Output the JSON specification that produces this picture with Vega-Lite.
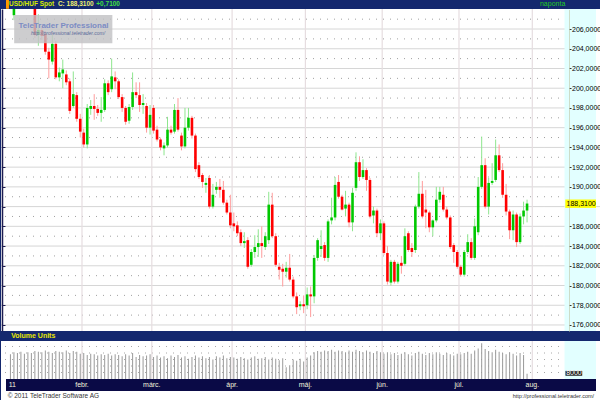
{
"$schema": "https://vega.github.io/schema/vega-lite/v6.json",
"background": "#14286e",
"padding": 0,
"bounds": "flush",
"spacing": 10,
"config": {"view": {"stroke": null}},
"datasets": {
"one": [{}],
"candles": [
{"i":0,"o":208.6,"h":209.8,"l":208.3,"c":209.3,"v":38000},
{"i":1,"o":207.4,"h":208.6,"l":206.9,"c":208.3,"v":41000},
{"i":2,"o":208.5,"h":211.0,"l":208.3,"c":210.6,"v":40000},
{"i":3,"o":210.6,"h":212.4,"l":210.2,"c":212.0,"v":42000},
{"i":4,"o":212.0,"h":213.8,"l":211.5,"c":213.2,"v":39000},
{"i":5,"o":213.2,"h":214.3,"l":212.1,"c":212.6,"v":41000},
{"i":6,"o":212.6,"h":213.0,"l":209.6,"c":210.0,"v":40000},
{"i":7,"o":209.9,"h":210.3,"l":205.1,"c":205.4,"v":43000},
{"i":8,"o":205.4,"h":207.5,"l":204.3,"c":205.9,"v":42000},
{"i":9,"o":205.9,"h":206.3,"l":204.9,"c":205.3,"v":41000},
{"i":10,"o":205.5,"h":205.8,"l":203.4,"c":203.7,"v":44000},
{"i":11,"o":203.7,"h":204.1,"l":201.0,"c":202.9,"v":42000},
{"i":12,"o":202.7,"h":205.4,"l":202.4,"c":204.5,"v":40000},
{"i":13,"o":204.5,"h":204.8,"l":200.9,"c":201.1,"v":43000},
{"i":14,"o":201.1,"h":202.1,"l":200.7,"c":201.6,"v":42000},
{"i":15,"o":201.5,"h":202.9,"l":200.0,"c":201.9,"v":41000},
{"i":16,"o":201.4,"h":201.8,"l":200.3,"c":200.6,"v":44000},
{"i":17,"o":200.7,"h":201.0,"l":197.4,"c":197.7,"v":40000},
{"i":18,"o":198.2,"h":201.7,"l":198.0,"c":199.4,"v":43000},
{"i":19,"o":199.3,"h":199.6,"l":196.6,"c":196.9,"v":42000},
{"i":20,"o":196.9,"h":197.4,"l":195.0,"c":195.6,"v":39000},
{"i":21,"o":195.5,"h":195.9,"l":194.0,"c":194.3,"v":40000},
{"i":22,"o":194.3,"h":198.4,"l":193.9,"c":198.0,"v":37000},
{"i":23,"o":197.9,"h":198.8,"l":197.3,"c":198.2,"v":39000},
{"i":24,"o":198.2,"h":199.4,"l":196.8,"c":197.9,"v":38000},
{"i":25,"o":197.9,"h":198.3,"l":197.2,"c":197.5,"v":36000},
{"i":26,"o":197.5,"h":199.1,"l":196.6,"c":197.8,"v":38000},
{"i":27,"o":197.8,"h":200.9,"l":197.6,"c":200.5,"v":37000},
{"i":28,"o":200.5,"h":200.8,"l":199.3,"c":199.6,"v":39000},
{"i":29,"o":199.9,"h":203.0,"l":199.6,"c":201.2,"v":36000},
{"i":30,"o":201.1,"h":201.7,"l":199.9,"c":200.7,"v":38000},
{"i":31,"o":200.7,"h":200.9,"l":198.9,"c":199.1,"v":37000},
{"i":32,"o":199.1,"h":199.4,"l":197.6,"c":198.0,"v":35000},
{"i":33,"o":198.0,"h":198.2,"l":196.3,"c":196.6,"v":38000},
{"i":34,"o":196.7,"h":198.4,"l":196.4,"c":198.1,"v":36000},
{"i":35,"o":198.1,"h":201.6,"l":197.8,"c":199.6,"v":40000},
{"i":36,"o":199.6,"h":200.6,"l":199.0,"c":199.3,"v":34000},
{"i":37,"o":199.3,"h":200.6,"l":197.6,"c":198.3,"v":37000},
{"i":38,"o":198.3,"h":199.4,"l":197.4,"c":198.5,"v":35000},
{"i":39,"o":198.2,"h":198.5,"l":195.5,"c":196.0,"v":36000},
{"i":40,"o":196.0,"h":198.3,"l":195.3,"c":197.3,"v":38000},
{"i":41,"o":198.0,"h":198.3,"l":195.4,"c":195.7,"v":34000},
{"i":42,"o":195.8,"h":196.2,"l":194.6,"c":194.8,"v":36000},
{"i":43,"o":194.8,"h":195.0,"l":193.7,"c":194.0,"v":33000},
{"i":44,"o":193.9,"h":194.5,"l":193.2,"c":194.2,"v":35000},
{"i":45,"o":194.2,"h":197.1,"l":194.0,"c":195.8,"v":32000},
{"i":46,"o":195.8,"h":196.2,"l":195.3,"c":195.5,"v":36000},
{"i":47,"o":195.6,"h":198.4,"l":195.4,"c":197.8,"v":34000},
{"i":48,"o":197.8,"h":199.0,"l":195.6,"c":195.8,"v":37000},
{"i":49,"o":195.2,"h":195.5,"l":193.7,"c":194.1,"v":33000},
{"i":50,"o":194.1,"h":198.0,"l":193.9,"c":196.0,"v":35000},
{"i":51,"o":196.0,"h":198.0,"l":195.7,"c":197.0,"v":31000},
{"i":52,"o":197.0,"h":197.2,"l":194.9,"c":195.2,"v":34000},
{"i":53,"o":195.2,"h":195.4,"l":191.5,"c":191.8,"v":36000},
{"i":54,"o":192.2,"h":192.5,"l":190.8,"c":191.0,"v":33000},
{"i":55,"o":191.2,"h":191.4,"l":189.9,"c":190.5,"v":35000},
{"i":56,"o":190.2,"h":190.9,"l":189.4,"c":190.4,"v":32000},
{"i":57,"o":190.9,"h":191.2,"l":187.8,"c":188.0,"v":34000},
{"i":58,"o":188.0,"h":190.3,"l":187.8,"c":189.2,"v":30000},
{"i":59,"o":189.7,"h":190.5,"l":189.3,"c":190.0,"v":35000},
{"i":60,"o":190.0,"h":190.8,"l":188.9,"c":189.7,"v":33000},
{"i":61,"o":189.7,"h":190.6,"l":188.2,"c":188.4,"v":36000},
{"i":62,"o":188.4,"h":188.7,"l":187.2,"c":187.4,"v":32000},
{"i":63,"o":187.4,"h":189.2,"l":185.8,"c":186.1,"v":34000},
{"i":64,"o":186.3,"h":187.4,"l":185.5,"c":186.0,"v":33000},
{"i":65,"o":186.1,"h":186.5,"l":185.0,"c":185.3,"v":31000},
{"i":66,"o":185.4,"h":185.7,"l":184.0,"c":184.3,"v":34000},
{"i":67,"o":184.3,"h":185.4,"l":183.8,"c":184.5,"v":32000},
{"i":68,"o":184.6,"h":184.9,"l":181.7,"c":181.9,"v":30000},
{"i":69,"o":182.1,"h":183.7,"l":181.9,"c":183.4,"v":33000},
{"i":70,"o":183.4,"h":185.1,"l":182.8,"c":183.9,"v":35000},
{"i":71,"o":183.9,"h":185.7,"l":182.9,"c":184.3,"v":31000},
{"i":72,"o":184.3,"h":186.0,"l":182.8,"c":184.0,"v":32000},
{"i":73,"o":183.9,"h":185.4,"l":183.6,"c":185.0,"v":34000},
{"i":74,"o":184.6,"h":189.5,"l":184.2,"c":188.2,"v":30000},
{"i":75,"o":188.2,"h":189.4,"l":184.8,"c":185.0,"v":33000},
{"i":76,"o":185.0,"h":185.3,"l":181.9,"c":182.1,"v":31000},
{"i":77,"o":181.9,"h":182.3,"l":180.6,"c":181.6,"v":29000},
{"i":78,"o":181.7,"h":182.2,"l":179.9,"c":181.4,"v":32000},
{"i":79,"o":181.4,"h":182.4,"l":180.8,"c":181.8,"v":18000},
{"i":80,"o":181.8,"h":183.2,"l":180.4,"c":180.6,"v":21000},
{"i":81,"o":180.6,"h":180.9,"l":178.7,"c":178.9,"v":30000},
{"i":82,"o":178.9,"h":179.3,"l":177.1,"c":177.8,"v":28000},
{"i":83,"o":177.9,"h":178.4,"l":177.5,"c":178.1,"v":31000},
{"i":84,"o":178.1,"h":179.0,"l":177.2,"c":177.9,"v":27000},
{"i":85,"o":178.0,"h":179.8,"l":177.6,"c":179.1,"v":33000},
{"i":86,"o":179.1,"h":179.9,"l":176.8,"c":178.9,"v":36000},
{"i":87,"o":178.9,"h":183.1,"l":178.2,"c":182.8,"v":41000},
{"i":88,"o":182.8,"h":184.8,"l":182.5,"c":184.6,"v":43000},
{"i":89,"o":183.7,"h":185.6,"l":182.9,"c":184.0,"v":42000},
{"i":90,"o":184.1,"h":184.4,"l":182.5,"c":182.8,"v":44000},
{"i":91,"o":182.8,"h":186.7,"l":182.4,"c":186.5,"v":43000},
{"i":92,"o":186.6,"h":188.9,"l":186.2,"c":186.9,"v":45000},
{"i":93,"o":186.9,"h":191.0,"l":186.6,"c":190.2,"v":42000},
{"i":94,"o":190.5,"h":191.2,"l":188.8,"c":189.0,"v":44000},
{"i":95,"o":189.0,"h":189.2,"l":187.6,"c":187.7,"v":43000},
{"i":96,"o":187.8,"h":189.6,"l":187.0,"c":188.2,"v":41000},
{"i":97,"o":188.2,"h":188.4,"l":185.9,"c":186.4,"v":44000},
{"i":98,"o":186.4,"h":189.9,"l":185.5,"c":189.4,"v":42000},
{"i":99,"o":189.9,"h":193.5,"l":189.6,"c":192.5,"v":45000},
{"i":100,"o":192.5,"h":193.1,"l":190.6,"c":191.0,"v":43000},
{"i":101,"o":191.0,"h":192.8,"l":190.8,"c":191.7,"v":41000},
{"i":102,"o":191.7,"h":191.9,"l":189.6,"c":190.7,"v":44000},
{"i":103,"o":190.7,"h":190.9,"l":186.8,"c":187.0,"v":42000},
{"i":104,"o":187.1,"h":188.0,"l":186.3,"c":187.6,"v":40000},
{"i":105,"o":187.6,"h":187.8,"l":184.9,"c":185.3,"v":43000},
{"i":106,"o":185.3,"h":186.7,"l":184.6,"c":186.3,"v":41000},
{"i":107,"o":186.3,"h":186.5,"l":183.1,"c":183.3,"v":39000},
{"i":108,"o":183.3,"h":184.0,"l":180.1,"c":180.4,"v":41000},
{"i":109,"o":180.3,"h":182.6,"l":180.0,"c":182.4,"v":38000},
{"i":110,"o":182.4,"h":182.6,"l":180.2,"c":180.4,"v":40000},
{"i":111,"o":180.4,"h":182.4,"l":180.2,"c":182.2,"v":37000},
{"i":112,"o":182.3,"h":183.0,"l":181.2,"c":182.0,"v":39000},
{"i":113,"o":182.2,"h":185.8,"l":182.0,"c":185.0,"v":41000},
{"i":114,"o":185.3,"h":185.5,"l":183.4,"c":183.6,"v":38000},
{"i":115,"o":183.8,"h":184.3,"l":182.9,"c":183.4,"v":36000},
{"i":116,"o":183.6,"h":188.2,"l":183.3,"c":188.0,"v":40000},
{"i":117,"o":188.0,"h":191.5,"l":187.8,"c":189.3,"v":42000},
{"i":118,"o":189.3,"h":190.6,"l":186.8,"c":187.0,"v":39000},
{"i":119,"o":187.7,"h":189.7,"l":185.8,"c":187.4,"v":37000},
{"i":120,"o":187.4,"h":187.6,"l":185.4,"c":185.9,"v":40000},
{"i":121,"o":185.9,"h":186.7,"l":185.0,"c":186.6,"v":38000},
{"i":122,"o":186.6,"h":190.0,"l":186.4,"c":188.7,"v":41000},
{"i":123,"o":188.7,"h":190.0,"l":188.4,"c":189.5,"v":39000},
{"i":124,"o":189.2,"h":190.0,"l":187.5,"c":187.7,"v":37000},
{"i":125,"o":187.7,"h":188.0,"l":186.7,"c":186.9,"v":40000},
{"i":126,"o":186.9,"h":187.1,"l":183.7,"c":183.9,"v":38000},
{"i":127,"o":184.1,"h":184.3,"l":182.3,"c":183.4,"v":36000},
{"i":128,"o":183.4,"h":183.6,"l":181.7,"c":181.9,"v":39000},
{"i":129,"o":181.9,"h":182.1,"l":180.9,"c":181.1,"v":38000},
{"i":130,"o":181.1,"h":183.6,"l":180.9,"c":183.4,"v":40000},
{"i":131,"o":183.4,"h":185.2,"l":183.2,"c":184.4,"v":42000},
{"i":132,"o":184.4,"h":184.8,"l":182.6,"c":182.8,"v":39000},
{"i":133,"o":182.8,"h":186.8,"l":182.6,"c":186.0,"v":44000},
{"i":134,"o":185.4,"h":191.0,"l":185.1,"c":190.0,"v":47000},
{"i":135,"o":190.0,"h":195.1,"l":189.8,"c":192.2,"v":55000},
{"i":136,"o":192.2,"h":192.9,"l":187.8,"c":188.0,"v":46000},
{"i":137,"o":188.0,"h":190.9,"l":187.2,"c":190.4,"v":43000},
{"i":138,"o":190.4,"h":192.4,"l":190.2,"c":190.6,"v":41000},
{"i":139,"o":190.7,"h":194.8,"l":190.5,"c":193.2,"v":45000},
{"i":140,"o":193.2,"h":194.3,"l":191.5,"c":191.7,"v":42000},
{"i":141,"o":191.7,"h":192.4,"l":188.9,"c":189.2,"v":40000},
{"i":142,"o":189.2,"h":190.3,"l":187.1,"c":187.5,"v":38000},
{"i":143,"o":187.5,"h":187.7,"l":184.7,"c":185.6,"v":41000},
{"i":144,"o":185.6,"h":187.6,"l":184.6,"c":187.2,"v":39000},
{"i":145,"o":187.2,"h":187.4,"l":183.9,"c":184.4,"v":36000},
{"i":146,"o":184.4,"h":187.3,"l":184.2,"c":187.0,"v":40000},
{"i":147,"o":187.0,"h":188.5,"l":186.2,"c":187.6,"v":37000},
{"i":148,"o":187.6,"h":188.7,"l":186.4,"c":188.31,"v":8000}
],
"months": [
{"b":-0.5,"label":"11"},{"b":20.5,"label":"febr."},{"b":40.5,"label":"márc."},{"b":63.5,"label":"ápr."},
{"b":84.5,"label":"máj."},{"b":106.5,"label":"jún."},{"b":128.5,"label":"júl."},{"b":149.5,"label":"aug."}
],
"hgrid": [
{"v":176},{"v":177},{"v":178},{"v":179},{"v":180},{"v":181},{"v":182},{"v":183},{"v":184},{"v":185},{"v":186},{"v":187},{"v":188},{"v":189},{"v":190},{"v":191},
{"v":192},{"v":193},{"v":194},{"v":195},{"v":196},{"v":197},{"v":198},{"v":199},{"v":200},{"v":201},{"v":202},{"v":203},{"v":204},{"v":205},{"v":206},{"v":207}
],
"vgrid": [{"v":10000},{"v":20000},{"v":30000},{"v":40000},{"v":50000}]
},
"vconcat": [
{
"width": 600, "height": 322,
"view": {"fill": "#ffffff", "stroke": null},
"resolve": {"axis": {"y": "independent"}},
"layer": [
{"data": {"name": "hgrid"}, "mark": {"type": "rule", "strokeWidth": 1},
 "encoding": {
  "y": {"field": "v", "type": "quantitative", "scale": {"domain": [175.39, 208.03], "nice": false, "zero": false},
        "axis": {"orient": "left", "values": [176,178,180,182,184,186,188,190,192,194,196,198,200,202,204,206], "labels": false, "title": null, "tickSize": -3, "tickColor": "#1c1c50", "offset": -1, "domain": true, "domainColor": "#1c1c50", "domainWidth": 1.5, "grid": false, "zindex": 1}},
  "color": {"condition": {"test": "datum.v % 2 == 0", "value": "#d6d6d6"}, "value": "#a0a0a0"},
  "strokeDash": {"condition": {"test": "datum.v % 2 == 0", "value": [1, 0]}, "value": [1, 6]}
 }},
{"data": {"name": "months"}, "transform": [{"filter": "datum.b > 0"}], "mark": {"type": "rule", "color": "#e6dde0", "strokeWidth": 1.2},
 "encoding": {"x": {"field": "b", "type": "quantitative", "scale": {"domain": [-1.27, 167.75], "nice": false, "zero": false}, "axis": null}}},
{"data": {"name": "one"}, "mark": {"type": "rect", "color": "#e2ffff"},
 "encoding": {"x": {"datum": 158.73, "scale": {"domain": [-1.27, 167.75], "nice": false, "zero": false}, "axis": null}, "x2": {"datum": 167.75},
  "y": {"datum": 175.39, "scale": {"domain": [175.39, 208.03], "nice": false, "zero": false}, "axis": null}, "y2": {"datum": 208.03}}},
{"data": {"name": "candles"}, "mark": {"type": "rule", "clip": true, "strokeWidth": 1},
 "encoding": {
  "x": {"field": "i", "type": "quantitative", "scale": {"domain": [-1.27, 167.75], "nice": false, "zero": false}, "axis": null},
  "y": {"field": "l", "type": "quantitative", "scale": {"domain": [175.39, 208.03], "nice": false, "zero": false}, "axis": null},
  "y2": {"field": "h"},
  "color": {"condition": {"test": "datum.c >= datum.o", "value": "#8ee68e"}, "value": "#ff9c9c"}
 }},
{"data": {"name": "candles"}, "mark": {"type": "bar", "clip": true, "size": 2.6},
 "encoding": {
  "x": {"field": "i", "type": "quantitative", "scale": {"domain": [-1.27, 167.75], "nice": false, "zero": false}, "axis": null},
  "y": {"field": "o", "type": "quantitative", "scale": {"domain": [175.39, 208.03], "nice": false, "zero": false},
        "axis": {"orient": "right", "offset": -32, "values": [176,178,180,182,184,186,190,192,194,196,198,200,202,204,206],
                 "labelExpr": "replace(format(datum.value, '.4f'), '.', ',')", "labelFont": "Liberation Sans", "labelFontSize": 7, "labelColor": "#000000",
                 "labelPadding": 0.5, "tickSize": 2, "tickColor": "#333333", "domain": true, "domainColor": "#b8b890", "domainDash": [1, 1],
                 "grid": false, "title": null, "zindex": 1, "labelOverlap": false}},
  "y2": {"field": "c"},
  "color": {"condition": {"test": "datum.c >= datum.o", "value": "#00c800"}, "value": "#ff0000"}
 }},
{"data": {"name": "one"}, "mark": {"type": "rect", "color": "#c2c2c4", "opacity": 0.82},
 "encoding": {"x": {"datum": 1.07, "scale": {"domain": [-1.27, 167.75], "nice": false, "zero": false}, "axis": null}, "x2": {"datum": 29.2},
  "y": {"datum": 204.55, "scale": {"domain": [175.39, 208.03], "nice": false, "zero": false}, "axis": null}, "y2": {"datum": 207.42}}},
{"data": {"name": "one"}, "mark": {"type": "text", "font": "Liberation Sans", "fontSize": 8, "fontWeight": "bold", "color": "#7c8cc4", "align": "center", "baseline": "middle"},
 "encoding": {"x": {"datum": 15.2, "scale": {"domain": [-1.27, 167.75], "nice": false, "zero": false}, "axis": null},
  "y": {"datum": 206.35, "scale": {"domain": [175.39, 208.03], "nice": false, "zero": false}, "axis": null}, "text": {"value": "TeleTrader Professional"}}},
{"data": {"name": "one"}, "mark": {"type": "text", "font": "Liberation Sans", "fontSize": 5, "fontStyle": "italic", "color": "#5a6a9a", "align": "center", "baseline": "middle"},
 "encoding": {"x": {"datum": 16.5, "scale": {"domain": [-1.27, 167.75], "nice": false, "zero": false}, "axis": null},
  "y": {"datum": 205.55, "scale": {"domain": [175.39, 208.03], "nice": false, "zero": false}, "axis": null}, "text": {"value": "http://professional.teletrader.com/"}}},
{"data": {"name": "one"}, "mark": {"type": "rect", "color": "#ffff00"},
 "encoding": {"x": {"datum": 158.95, "scale": {"domain": [-1.27, 167.75], "nice": false, "zero": false}, "axis": null}, "x2": {"datum": 167.75},
  "y": {"datum": 187.87, "scale": {"domain": [175.39, 208.03], "nice": false, "zero": false}, "axis": null}, "y2": {"datum": 188.72}}},
{"data": {"name": "one"}, "mark": {"type": "text", "font": "Liberation Sans", "fontSize": 7, "color": "#000000", "align": "left", "baseline": "middle"},
 "encoding": {"x": {"datum": 159.3, "scale": {"domain": [-1.27, 167.75], "nice": false, "zero": false}, "axis": null},
  "y": {"datum": 188.31, "scale": {"domain": [175.39, 208.03], "nice": false, "zero": false}, "axis": null}, "text": {"value": "188,3100"}}},
{"data": {"name": "one"}, "mark": {"type": "rect", "color": "#ff9900"},
 "encoding": {"x": {"datum": -1.27, "scale": {"domain": [-1.27, 167.75], "nice": false, "zero": false}, "axis": null}, "x2": {"datum": -0.42},
  "y": {"datum": 208.05, "scale": {"domain": [175.39, 208.03], "nice": false, "zero": false}, "axis": null}, "y2": {"datum": 208.94}}},
{"data": {"name": "one"}, "mark": {"type": "text", "font": "Liberation Sans", "fontSize": 6.5, "fontWeight": "bold", "color": "#d4ec00", "align": "left", "baseline": "middle"},
 "encoding": {"x": {"datum": -0.4, "scale": {"domain": [-1.27, 167.75], "nice": false, "zero": false}, "axis": null},
  "y": {"datum": 208.49, "scale": {"domain": [175.39, 208.03], "nice": false, "zero": false}, "axis": null}, "text": {"value": "USD/HUF Spot"}}},
{"data": {"name": "one"}, "mark": {"type": "text", "font": "Liberation Sans", "fontSize": 6.5, "fontWeight": "bold", "color": "#eeee70", "align": "left", "baseline": "middle"},
 "encoding": {"x": {"datum": 13.6, "scale": {"domain": [-1.27, 167.75], "nice": false, "zero": false}, "axis": null},
  "y": {"datum": 208.49, "scale": {"domain": [175.39, 208.03], "nice": false, "zero": false}, "axis": null}, "text": {"value": "C: 188,3100"}}},
{"data": {"name": "one"}, "mark": {"type": "text", "font": "Liberation Sans", "fontSize": 6.5, "fontWeight": "bold", "color": "#40e040", "align": "left", "baseline": "middle"},
 "encoding": {"x": {"datum": 24.6, "scale": {"domain": [-1.27, 167.75], "nice": false, "zero": false}, "axis": null},
  "y": {"datum": 208.49, "scale": {"domain": [175.39, 208.03], "nice": false, "zero": false}, "axis": null}, "text": {"value": "+0,7100"}}},
{"data": {"name": "one"}, "mark": {"type": "text", "font": "Liberation Sans", "fontSize": 7, "color": "#22cc22", "align": "left", "baseline": "middle"},
 "encoding": {"x": {"datum": 151.7, "scale": {"domain": [-1.27, 167.75], "nice": false, "zero": false}, "axis": null},
  "y": {"datum": 208.49, "scale": {"domain": [175.39, 208.03], "nice": false, "zero": false}, "axis": null}, "text": {"value": "naponta"}}}
]
},
{
"width": 600, "height": 59,
"view": {"fill": "#ffffff", "stroke": null},
"layer": [
{"data": {"name": "vgrid"}, "mark": {"type": "rule", "strokeWidth": 1, "color": "#a8a8a8", "strokeDash": [1, 6]},
 "encoding": {"y": {"field": "v", "type": "quantitative", "scale": {"domain": [-32300, 58460], "nice": false, "zero": false}, "axis": null}}},
{"data": {"name": "months"}, "transform": [{"filter": "datum.b > 0"}], "mark": {"type": "rule", "color": "#e6dde0", "strokeWidth": 1.2},
 "encoding": {"x": {"field": "b", "type": "quantitative", "scale": {"domain": [-1.27, 167.75], "nice": false, "zero": false}, "axis": null},
  "y": {"datum": 0, "scale": {"domain": [-32300, 58460], "nice": false, "zero": false}, "axis": null}, "y2": {"datum": 58460}}},
{"data": {"name": "one"}, "mark": {"type": "rect", "color": "#e2ffff"},
 "encoding": {"x": {"datum": 158.73, "scale": {"domain": [-1.27, 167.75], "nice": false, "zero": false}, "axis": null}, "x2": {"datum": 167.75},
  "y": {"datum": 0, "scale": {"domain": [-32300, 58460], "nice": false, "zero": false}, "axis": null}, "y2": {"datum": 58460}}},
{"data": {"name": "candles"}, "mark": {"type": "bar", "size": 1, "color": "#9a9a9a"},
 "encoding": {
  "x": {"field": "i", "type": "quantitative", "scale": {"domain": [-1.27, 167.75], "nice": false, "zero": false}, "axis": null},
  "y": {"field": "v", "type": "quantitative", "scale": {"domain": [-32300, 58460], "nice": false, "zero": false},
        "axis": {"orient": "right", "offset": -32, "values": [20000, 40000], "format": "d", "labelFont": "Liberation Sans", "labelFontSize": 7, "labelColor": "#000000",
                 "labelPadding": 0.5, "tickSize": 2, "tickColor": "#333333", "domain": false, "grid": false, "title": null, "zindex": 1}}
 }},
{"data": {"name": "one"}, "mark": {"type": "rect", "color": "#0a0a46"},
 "encoding": {"x": {"datum": -1.27, "scale": {"domain": [-1.27, 167.75], "nice": false, "zero": false}, "axis": null}, "x2": {"datum": 167.75},
  "y": {"datum": -18460, "scale": {"domain": [-32300, 58460], "nice": false, "zero": false}, "axis": null}, "y2": {"datum": 0}}},
{"data": {"name": "one"}, "mark": {"type": "rect", "color": "#ffffff"},
 "encoding": {"x": {"datum": -1.27, "scale": {"domain": [-1.27, 167.75], "nice": false, "zero": false}, "axis": null}, "x2": {"datum": 167.75},
  "y": {"datum": -32300, "scale": {"domain": [-32300, 58460], "nice": false, "zero": false}, "axis": null}, "y2": {"datum": -18460}}},
{"data": {"name": "months"}, "transform": [{"filter": "datum.b > 0"}], "mark": {"type": "text", "font": "Liberation Sans", "fontSize": 7, "color": "#f4f4dc", "align": "center", "baseline": "middle"},
 "encoding": {"x": {"field": "b", "type": "quantitative", "scale": {"domain": [-1.27, 167.75], "nice": false, "zero": false}, "axis": null},
  "y": {"datum": -9230, "scale": {"domain": [-32300, 58460], "nice": false, "zero": false}, "axis": null}, "text": {"field": "label"}}},
{"data": {"name": "months"}, "transform": [{"filter": "datum.b < 0"}], "mark": {"type": "text", "font": "Liberation Sans", "fontSize": 7, "color": "#f4f4dc", "align": "left", "baseline": "middle"},
 "encoding": {"x": {"field": "b", "type": "quantitative", "scale": {"domain": [-1.27, 167.75], "nice": false, "zero": false}, "axis": null},
  "y": {"datum": -9230, "scale": {"domain": [-32300, 58460], "nice": false, "zero": false}, "axis": null}, "text": {"field": "label"}}},
{"data": {"name": "one"}, "mark": {"type": "text", "font": "Liberation Sans", "fontSize": 6.5, "color": "#333333", "align": "left", "baseline": "middle"},
 "encoding": {"x": {"datum": -0.8, "scale": {"domain": [-1.27, 167.75], "nice": false, "zero": false}, "axis": null},
  "y": {"datum": -25400, "scale": {"domain": [-32300, 58460], "nice": false, "zero": false}, "axis": null}, "text": {"value": "© 2011 TeleTrader Software AG"}}},
{"data": {"name": "one"}, "mark": {"type": "text", "font": "Liberation Sans", "fontSize": 5.5, "color": "#333333", "align": "right", "baseline": "middle"},
 "encoding": {"x": {"datum": 167.2, "scale": {"domain": [-1.27, 167.75], "nice": false, "zero": false}, "axis": null},
  "y": {"datum": -25400, "scale": {"domain": [-32300, 58460], "nice": false, "zero": false}, "axis": null}, "text": {"value": "http://professional.teletrader.com/"}}},
{"data": {"name": "one"}, "mark": {"type": "text", "font": "Liberation Sans", "fontSize": 7, "fontWeight": "bold", "color": "#e8e800", "align": "left", "baseline": "middle"},
 "encoding": {"x": {"datum": 0.2, "scale": {"domain": [-1.27, 167.75], "nice": false, "zero": false}, "axis": null},
  "y": {"datum": 66150, "scale": {"domain": [-32300, 58460], "nice": false, "zero": false}, "axis": null}, "text": {"value": "Volume Units"}}},
{"data": {"name": "one"}, "mark": {"type": "rect", "color": "#202020"},
 "encoding": {"x": {"datum": 159.0, "scale": {"domain": [-1.27, 167.75], "nice": false, "zero": false}, "axis": null}, "x2": {"datum": 163.8},
  "y": {"datum": 5000, "scale": {"domain": [-32300, 58460], "nice": false, "zero": false}, "axis": null}, "y2": {"datum": 12500}}},
{"data": {"name": "one"}, "mark": {"type": "text", "font": "Liberation Sans", "fontSize": 7, "color": "#ffffff", "align": "left", "baseline": "middle"},
 "encoding": {"x": {"datum": 159.2, "scale": {"domain": [-1.27, 167.75], "nice": false, "zero": false}, "axis": null},
  "y": {"datum": 8700, "scale": {"domain": [-32300, 58460], "nice": false, "zero": false}, "axis": null}, "text": {"value": "8000"}}}
]
}
]
}
